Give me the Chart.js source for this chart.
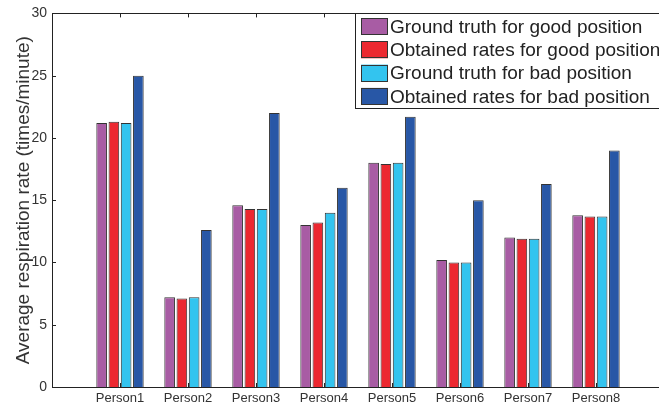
<!DOCTYPE html>
<html>
<head>
<meta charset="utf-8">
<script src="https://cdn.jsdelivr.net/npm/chart.js@4"></script>
<style>
  html, body { margin: 0; padding: 0; background: #fff; overflow: hidden; }
  #wrap { width: 672px; height: 408px; }
</style>
</head>
<body>
<div id="wrap"><canvas id="c" width="672" height="408"></canvas></div>
<script>
// Per-person average respiration rates (times/minute)
const persons = ['Person1', 'Person2', 'Person3', 'Person4', 'Person5', 'Person6', 'Person7', 'Person8'];
const truthGood    = [21.2, 7.2, 14.6, 13.0, 18.0, 10.2, 12.0, 13.8];
const obtainedGood = [21.3, 7.1, 14.3, 13.2, 17.9, 10.0, 11.9, 13.7];
const truthBad     = [21.2, 7.2, 14.3, 14.0, 18.0, 10.0, 11.9, 13.7];
const obtainedBad  = [25.0, 12.6, 22.0, 16.0, 21.7, 15.0, 16.3, 19.0];
const yTicks = [0, 5, 10, 15, 20, 25, 30];

const seriesNames = [
  'Ground truth for good position',
  'Obtained rates for good position',
  'Ground truth for bad position',
  'Obtained rates for bad position'
];
const seriesColors = ['#A85CA4', '#EC2830', '#33C4EF', '#2857A6'];

// Empty slots at both ends give the axis a full category of margin
const labels = [''].concat(persons, ['']);
const pad = arr => [null].concat(arr, [null]);

const FONT = '"Liberation Sans", Arial, Helvetica, sans-serif';
const AXIS = '#222';

// Frame, inward tick marks and the boxed legend
const framePlugin = {
  id: 'frame',
  beforeDatasetsDraw(chart) {
    const { ctx, chartArea: a, scales } = chart;
    ctx.save();
    ctx.strokeStyle = AXIS;
    ctx.lineWidth = 1;
    ctx.beginPath();
    persons.forEach((p, i) => {
      const x = Math.round(scales.x.getPixelForValue(i + 1)) + 0.5;
      ctx.moveTo(x, a.bottom); ctx.lineTo(x, a.bottom - 4);
      ctx.moveTo(x, a.top); ctx.lineTo(x, a.top + 4);
    });
    yTicks.forEach(v => {
      const y = Math.round(scales.y.getPixelForValue(v)) + 0.5;
      ctx.moveTo(a.left, y); ctx.lineTo(a.left + 4, y);
    });
    ctx.stroke();
    ctx.restore();
  },
  afterDraw(chart) {
    const { ctx, chartArea: a } = chart;
    ctx.save();
    ctx.strokeStyle = AXIS;
    ctx.lineWidth = 1;
    ctx.beginPath();
    ctx.moveTo(Math.round(a.left) + 0.5, a.top);
    ctx.lineTo(Math.round(a.left) + 0.5, a.bottom);
    ctx.moveTo(a.left, Math.round(a.bottom) + 0.5);
    ctx.lineTo(a.right, Math.round(a.bottom) + 0.5);
    ctx.moveTo(a.left, Math.round(a.top) + 0.5);
    ctx.lineTo(a.right, Math.round(a.top) + 0.5);
    ctx.stroke();

    // legend box
    const bx = 355.5, by = 13.5, bw = 330, bh = 95;
    ctx.fillStyle = '#fff';
    ctx.fillRect(bx, by, bw, bh);
    ctx.strokeStyle = '#222';
    ctx.strokeRect(bx, by, bw, bh);
    ctx.font = '19px ' + FONT;
    ctx.textBaseline = 'middle';
    chart.data.datasets.forEach((ds, i) => {
      const top = 18 + i * 23.3;
      ctx.fillStyle = ds.backgroundColor;
      ctx.fillRect(361, top, 27, 17);
      ctx.strokeStyle = '#333';
      ctx.strokeRect(361.5, Math.round(top) + 0.5, 26, 16);
      ctx.fillStyle = '#222';
      ctx.fillText(ds.label, 390, top + 9.5);
    });
    ctx.restore();
  }
};

new Chart(document.getElementById('c'), {
  type: 'bar',
  data: {
    labels: labels,
    datasets: [truthGood, obtainedGood, truthBad, obtainedBad].map((vals, i) => ({
      label: seriesNames[i],
      data: pad(vals),
      backgroundColor: seriesColors[i],
      borderColor: '#333',
      borderWidth: 1,
      categoryPercentage: 0.72,
      barPercentage: 0.87
    }))
  },
  options: {
    responsive: false,
    animation: false,
    devicePixelRatio: 1,
    layout: { padding: { top: 10, right: 8, left: 0, bottom: 0 } },
    plugins: { legend: { display: false }, tooltip: { enabled: false } },
    scales: {
      x: {
        type: 'category',
        offset: false,
        grid: { display: false, drawTicks: false },
        border: { display: false },
        ticks: {
          autoSkip: false,
          maxRotation: 0,
          padding: 4,
          color: '#333',
          font: { family: FONT, size: 13 }
        },
        afterFit(s) { s.height = 21; }
      },
      y: {
        min: 0,
        max: 30,
        afterBuildTicks(s) { s.ticks = yTicks.map(v => ({ value: v })); },
        grid: { display: false, drawTicks: false },
        border: { display: false },
        ticks: {
          padding: 5,
          color: '#333',
          font: { family: FONT, size: 14 }
        },
        title: {
          display: true,
          text: 'Average respiration rate (times/minute)',
          color: '#333',
          font: { family: FONT, size: 19 },
          padding: { top: 12, bottom: 0 }
        },
        afterFit(s) { s.width = 52; }
      }
    }
  },
  plugins: [framePlugin]
});
</script>
</body>
</html>
